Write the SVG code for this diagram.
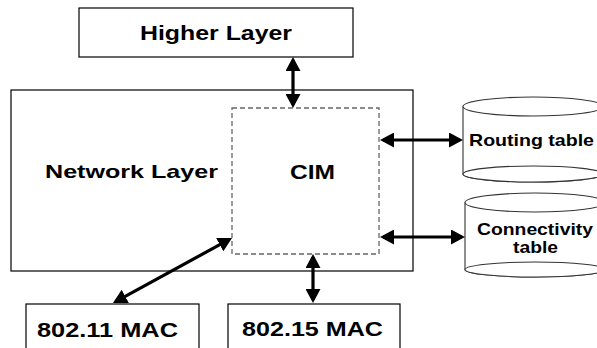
<svg xmlns="http://www.w3.org/2000/svg" width="597" height="348" viewBox="0 0 597 348">
<style>
.box{fill:#fff;stroke:#000;stroke-width:1.2}
.dash{fill:none;stroke:#666;stroke-width:1.3;stroke-dasharray:5 3}
.cyl{fill:#fff;stroke:#333;stroke-width:1.1}
.t{font-family:"Liberation Sans",Arial,sans-serif;font-weight:bold;fill:#000}
.arr{stroke:#000;stroke-width:3.2;fill:none;marker-start:url(#ah);marker-end:url(#ah)}
</style>
<defs>
<marker id="ah" viewBox="0 0 14 15" refX="11" refY="7.5" markerWidth="14" markerHeight="15" markerUnits="userSpaceOnUse" orient="auto-start-reverse">
<path d="M0,0 L14,7.5 L0,15 z" fill="#000"/>
</marker>
</defs>
<g id="higher-layer">
<rect class="box" x="79" y="8" width="274" height="49"/>
<text class="t" x="140" y="40" font-size="20" textLength="152" lengthAdjust="spacingAndGlyphs">Higher Layer</text>
</g>
<g id="network-layer">
<rect class="box" x="11" y="90" width="402" height="181"/>
<text class="t" x="45" y="178" font-size="19" textLength="173" lengthAdjust="spacingAndGlyphs">Network Layer</text>
</g>
<g id="cim">
<rect class="dash" x="232" y="108" width="147" height="146"/>
<text class="t" x="290" y="179" font-size="20" textLength="45" lengthAdjust="spacingAndGlyphs">CIM</text>
</g>
<g id="routing-table">
<path class="cyl" d="M463,106.5 L463,174 A70,8 0 0 0 603,174 L603,106.5"/>
<ellipse class="cyl" cx="533" cy="174" rx="70" ry="8"/>
<ellipse class="cyl" cx="533" cy="106.5" rx="70" ry="9.5"/>
<text class="t" x="469" y="146" font-size="17" textLength="125" lengthAdjust="spacingAndGlyphs">Routing table</text>
</g>
<g id="connectivity-table">
<path class="cyl" d="M465,202.5 L465,269.5 A70,7.5 0 0 0 605,269.5 L605,202.5"/>
<ellipse class="cyl" cx="535" cy="269.5" rx="70" ry="7.5"/>
<ellipse class="cyl" cx="535" cy="202.5" rx="70" ry="9.5"/>
<text class="t" x="477" y="235" font-size="17" textLength="116" lengthAdjust="spacingAndGlyphs">Connectivity</text>
<text class="t" x="513" y="253" font-size="17" textLength="45" lengthAdjust="spacingAndGlyphs">table</text>
</g>
<g id="mac-80211">
<rect class="box" x="26" y="304" width="173" height="60"/>
<text class="t" x="37" y="337" font-size="21" textLength="141" lengthAdjust="spacingAndGlyphs">802.11 MAC</text>
</g>
<g id="mac-80215">
<rect class="box" x="228" y="304" width="172" height="60"/>
<text class="t" x="242" y="336" font-size="21" textLength="141" lengthAdjust="spacingAndGlyphs">802.15 MAC</text>
</g>
<g id="connectors">
<line class="arr" x1="293" y1="60" x2="293" y2="105"/>
<line class="arr" x1="383" y1="140" x2="460" y2="140"/>
<line class="arr" x1="383" y1="237" x2="462" y2="237"/>
<line class="arr" x1="313" y1="257" x2="313" y2="300"/>
<line class="arr" x1="115.6" y1="301.6" x2="229.4" y2="239.4"/>
</g>
</svg>
